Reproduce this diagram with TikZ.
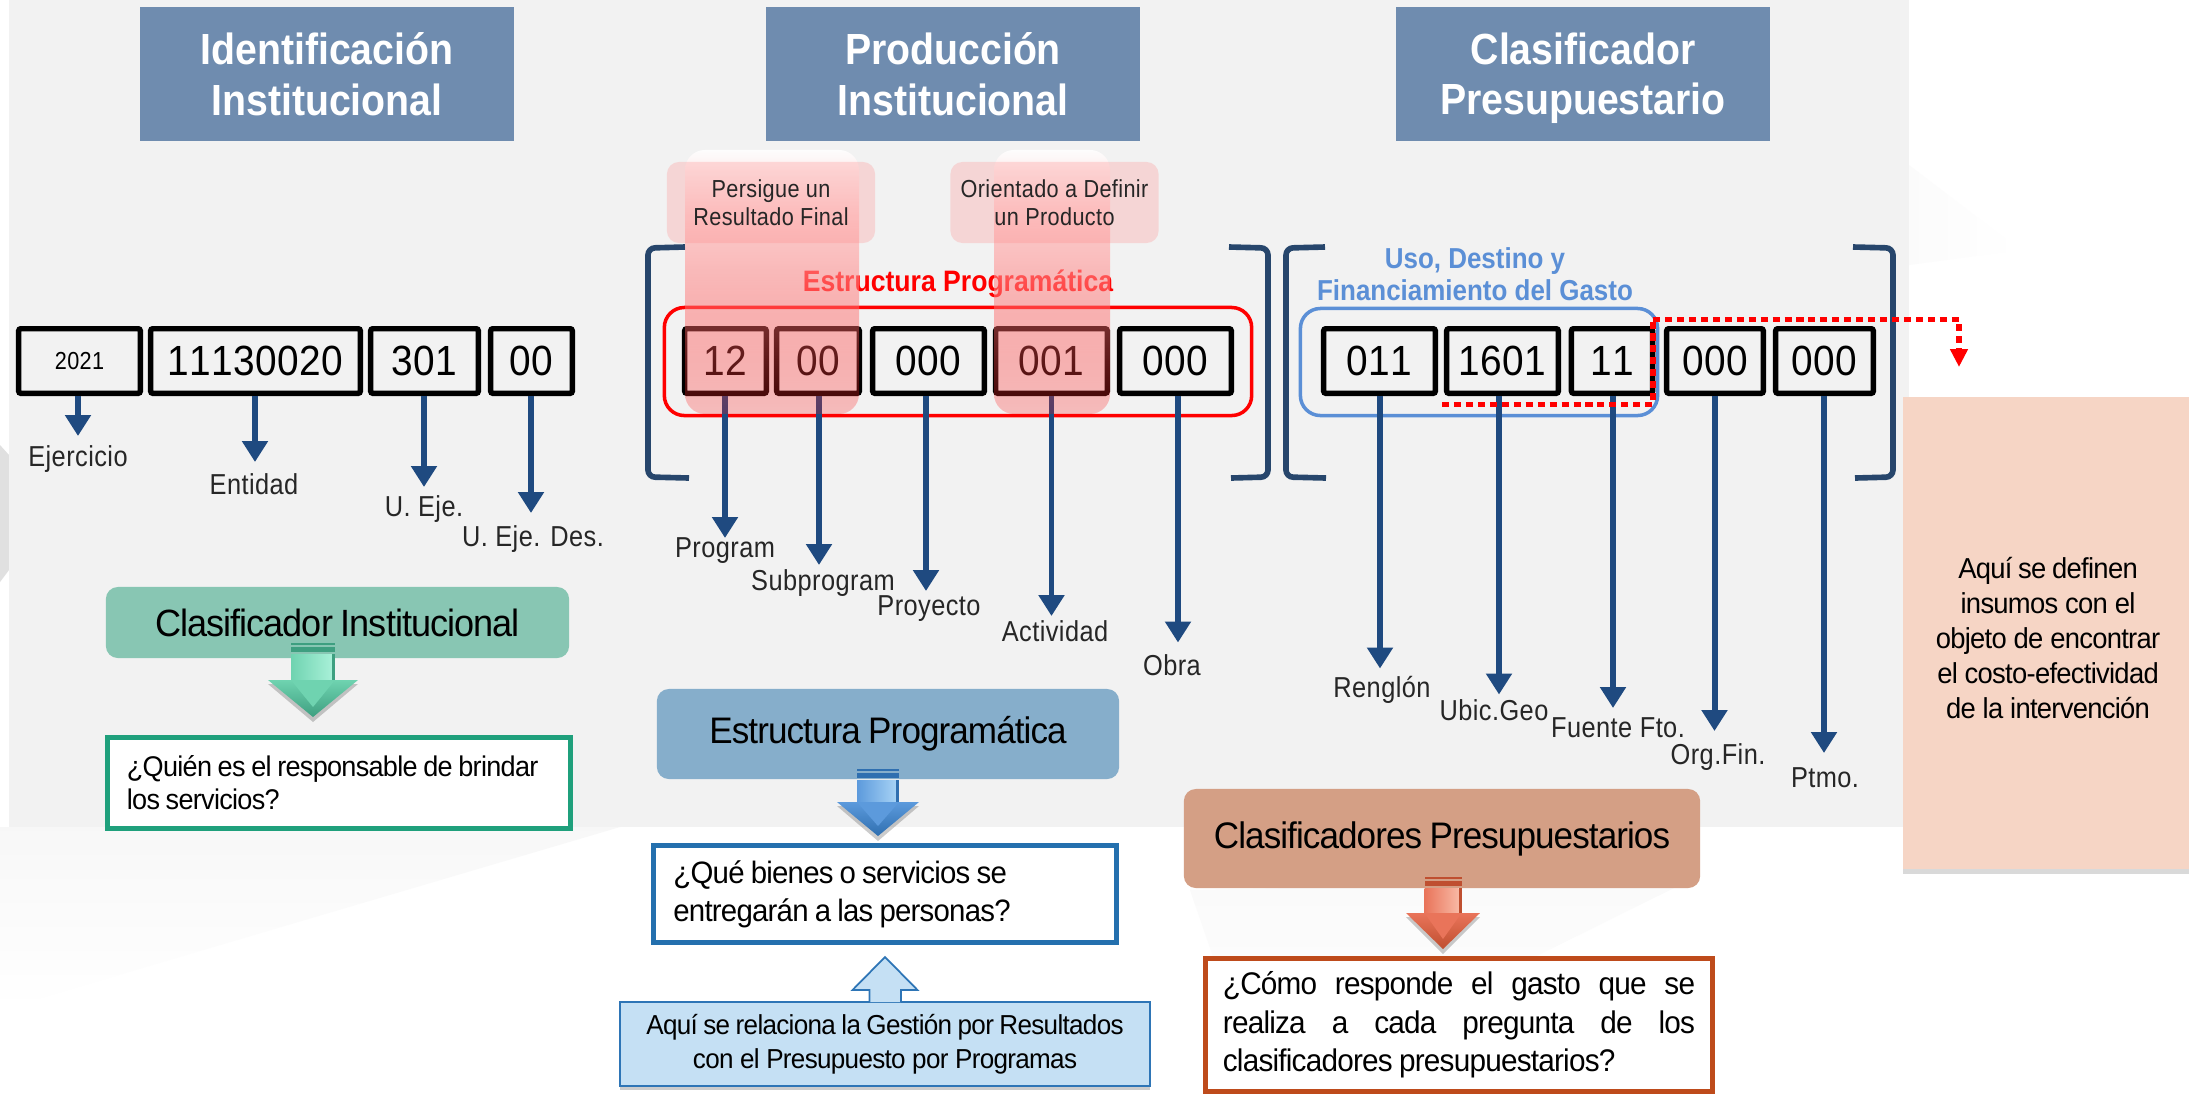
\documentclass[tikz,border=0pt]{standalone}
\usepackage{fontspec}
\usepackage{tikz}
\usetikzlibrary{arrows.meta,fadings}
\setmainfont{Liberation Sans}
\newfontfamily\labelfont[FakeStretch=0.88,LetterSpace=1.5]{Liberation Sans}
\newfontfamily\headfont[FakeStretch=0.9]{Liberation Sans}
\newfontfamily\codefont[FakeStretch=0.92,LetterSpace=1,Kerning=Off]{Liberation Sans}
\newfontfamily\tightfont[FakeStretch=0.95,LetterSpace=-2.5]{Liberation Sans}
\newcommand{\wordgap}{\spaceskip=.2em plus 1em\relax}
\definecolor{panelgray}{HTML}{F2F2F2}
\definecolor{headblue}{HTML}{6F8CAF}
\definecolor{arrowblue}{HTML}{1F4A80}
\definecolor{bracketblue}{HTML}{27466C}
\definecolor{usoblue}{HTML}{5B8FD6}
\definecolor{salmon}{HTML}{F6D5C5}
\definecolor{greentitle}{HTML}{88C6B3}
\definecolor{greenline}{HTML}{1FA07C}
\definecolor{greendark}{HTML}{3E9F80}
\definecolor{greenmid}{HTML}{6FD3B0}
\definecolor{greenlight}{HTML}{A8F0D8}
\definecolor{bluetitle}{HTML}{86AECB}
\definecolor{blueline}{HTML}{2470AE}
\definecolor{bluedark}{HTML}{2F6FB0}
\definecolor{bluemid}{HTML}{5C9ADC}
\definecolor{bluelight}{HTML}{A6D2F5}
\definecolor{orangetitle}{HTML}{D49F85}
\definecolor{orangeline}{HTML}{BE4B1B}
\definecolor{orangedark}{HTML}{BF4F30}
\definecolor{orangemid}{HTML}{E9745A}
\definecolor{orangelight}{HTML}{F8B8A4}
\definecolor{noteblue}{HTML}{C5E0F4}
\definecolor{notestroke}{HTML}{2E75B6}
\tikzfading[name=columnfade, top color=transparent!10, bottom color=transparent!76]
% cx, half shaft, stripe top, head y, half head, tip y, colour stem
\newcommand{\glossarrow}[7]{
  \fill[black,opacity=.2] ({#1-#5},#4+4) -- ({#1+#5},#4+4) -- (#1,#6+5) -- cycle;
  \fill[#7dark] ({#1-#2},#3) rectangle ({#1+#2},#3+2);
  \fill[#7dark] ({#1-#2},#3+4) rectangle ({#1+#2},#3+9);
  \shade[left color=#7mid, right color=#7light] ({#1-#2},#3+11) rectangle ({#1+#2-3},#4+2);
  \fill[#7dark] ({#1+#2-3},#3+11) rectangle ({#1+#2},#4+2);
  \shade[top color=#7mid, bottom color=#7dark] ({#1-#5},#4) -- ({#1+#5},#4) -- (#1,#6) -- cycle;
  \fill[#7mid] ({#1-#2},#4) -- ({#1+#2},#4) -- (#1,#6-10) -- cycle;
}

\begin{document}
\begin{tikzpicture}[x=0.01cm, y=-0.01cm,
  headerbox/.style={fill=headblue, text=white, minimum width=3.74cm, minimum height=1.34cm,
                    inner sep=0pt, align=center, text depth=0pt,
                    font=\headfont\bfseries\fontsize{12.4}{14.3}\selectfont},
  codebox/.style={draw=black, line width=1.56pt, rounded corners=0.6pt, inner sep=0pt,
                  minimum height=0.645cm, font=\codefont\fontsize{12}{13}\selectfont},
  codelabel/.style={font=\labelfont\fontsize{8.2}{9.4}\selectfont, text=black!85, inner sep=0pt},
  codearrow/.style={draw=arrowblue, line width=1.7pt, -{Triangle[width=0.25cm,length=0.21cm]}},
  bracket/.style={draw=bracketblue, line width=1.6pt, rounded corners=2pt},
  hintbox/.style={rounded corners=0.12cm, fill=red!50, fill opacity=.25, text opacity=1,
                  minimum width=2.08cm, minimum height=0.81cm, inner sep=0pt, align=center,
                  font=\labelfont\fontsize{7}{8}\selectfont, text=black!85},
  hintcolumn/.style={rounded corners=0.2cm, top color=white, bottom color=red!92,
                     path fading=columnfade},
  titlebox/.style={rounded corners=0.12cm, inner sep=0pt, align=center,
                   font=\tightfont\fontsize{10.5}{12}\selectfont},
  answerbox/.style={fill=white, line width=1.45pt, inner ysep=0pt, align=left},
  dotline/.style={draw=red, line width=1.55pt, dash pattern=on 2pt off 1.4pt},
]
\useasboundingbox (0,0) rectangle (2193,1093);

% Background
\fill[white] (0,0) rectangle (2193,1093);
\fill[black!12] (0,445) -- (9,455) -- (9,570) -- (0,582) -- cycle;
\shade[top color=black!3, bottom color=white] (0,827) -- (620,827) -- (0,1010) -- cycle;
\shade[left color=black!1.5, right color=white] (1909,165) -- (2020,250) -- (1909,265) -- cycle;
\shade[top color=black!2, bottom color=white] (1260,1093) -- (1690,880) -- (1190,890) -- cycle;
\fill[panelgray] (9,0) rectangle (1909,827);

% Headers
\node[headerbox] (headIdent) at (327,74) {Identificación\\Institucional};
\node[headerbox] (headProd) at (953,74) {Producción\\Institucional};
\node[headerbox] (headClas) at (1583,74) {Clasificador\\Presupuestario};

% Brackets
\draw[bracket] (685,247) -- (648,248) -- (648,477) -- (689,478);
\draw[bracket] (1229,247) -- (1268,248) -- (1268,477) -- (1231,478);
\draw[bracket] (1325,247) -- (1286,248) -- (1286,477) -- (1326,478);
\draw[bracket] (1853,247) -- (1893,248) -- (1893,477) -- (1855,478);

% Group captions and frames
\node[font=\headfont\bfseries\fontsize{8.4}{10}\selectfont, text=red, inner sep=0pt]
  (capProg) at (958,284) {Estructura Programática};
\node[font=\headfont\bfseries\fontsize{8.2}{9.25}\selectfont, text=usoblue, inner sep=0pt, align=center]
  (capUso) at (1475,274) {Uso, Destino y\\Financiamiento del Gasto};
\node[draw=red, line width=1pt, rounded corners=0.2cm, minimum width=5.87cm, minimum height=1.08cm,
      inner sep=0pt] (frameProg) at (958,361.5) {};
\node[draw=usoblue, line width=1pt, rounded corners=0.2cm, minimum width=3.57cm, minimum height=1.07cm,
      inner sep=0pt] (frameUso) at (1479,362) {};

% Code boxes
\node[codebox, minimum width=1.215cm, font=\labelfont\fontsize{7}{8}\selectfont] (cEjercicio) at (79.5,361) {2021};
\node[codebox, minimum width=2.095cm] (cEntidad) at (255.5,361) {11130020};
\node[codebox, minimum width=1.075cm] (cUeje) at (424.5,361) {301};
\node[codebox, minimum width=0.815cm] (cUdes) at (531.5,361) {00};
\node[codebox, minimum width=0.815cm] (cProgram) at (725.5,361) {12};
\node[codebox, minimum width=0.825cm] (cSubprog) at (818,361) {00};
\node[codebox, minimum width=1.115cm] (cProyecto) at (928.5,361) {000};
\node[codebox, minimum width=1.115cm] (cActividad) at (1051.5,361) {001};
\node[codebox, minimum width=1.115cm] (cObra) at (1175.5,361) {000};
\node[codebox, minimum width=1.115cm] (cRenglon) at (1379.5,361) {011};
\node[codebox, minimum width=1.115cm] (cUbic) at (1502.5,361) {1601};
\node[codebox, minimum width=0.81cm] (cFuente) at (1612,361) {11};
\node[codebox, minimum width=0.965cm] (cOrg) at (1715,361) {000};
\node[codebox, minimum width=0.975cm] (cPtmo) at (1824.5,361) {000};

% Arrow ends
\coordinate (tipEjercicio) at (78,436);
\coordinate (tipEntidad) at (255,462);
\coordinate (tipUeje) at (424,487);
\coordinate (tipUdes) at (531,513);
\coordinate (tipProgram) at (725,538);
\coordinate (tipSubprog) at (819,565);
\coordinate (tipProyecto) at (926,591);
\coordinate (tipActividad) at (1051.5,616);
\coordinate (tipObra) at (1178,642.5);
\coordinate (tipRenglon) at (1380,668.5);
\coordinate (tipUbic) at (1499,694.5);
\coordinate (tipFuente) at (1613,708);
\coordinate (tipOrg) at (1714.5,731);
\coordinate (tipPtmo) at (1824,753);

\foreach \item in {Ejercicio,Entidad,Ueje,Udes,Program,Subprog,Proyecto,Actividad,Obra,Renglon,Ubic,Fuente,Org,Ptmo}
  \draw[codearrow] (tip\item |- c\item.south) -- (tip\item);

% Labels under the arrows
\node[codelabel] (lEjercicio) at (78,459) {Ejercicio};
\node[codelabel] (lEntidad) at (254,484) {Entidad};
\node[codelabel] (lUeje) at (424,509) {U. Eje.};
\node[codelabel] (lUdes) at (533,539) {U. Eje. Des.};
\node[codelabel] (lProgram) at (725,551) {Program};
\node[codelabel] (lSubprog) at (823,583) {Subprogram};
\node[codelabel] (lProyecto) at (929,609) {Proyecto};
\node[codelabel] (lActividad) at (1055,631) {Actividad};
\node[codelabel] (lObra) at (1172,665) {Obra};
\node[codelabel] (lRenglon) at (1382,690) {Renglón};
\node[codelabel] (lUbic) at (1494,710) {Ubic.Geo};
\node[codelabel] (lFuente) at (1618,728) {Fuente Fto.};
\node[codelabel] (lOrg) at (1718,757) {Org.Fin.};
\node[codelabel] (lPtmo) at (1825,778) {Ptmo.};

% Pink columns over the codes
\path[hintcolumn] (685,150) rectangle (859,414);
\path[hintcolumn] (994,150) rectangle (1110,414);
\node[hintbox] (hintResultado) at (771,202.5) {Persigue un\\Resultado Final};
\node[hintbox] (hintProducto) at (1054.5,202.5) {Orientado a Definir\\un Producto};

% Dotted marker
\coordinate (dotA) at (1442,404.5);
\coordinate (dotB) at (1653,404.5);
\coordinate (dotC) at (1653,319.5);
\coordinate (dotD) at (1959,319.5);
\coordinate (dotE) at (1959,367);
\draw[dotline] (dotA) -- (dotB) -- (dotC);
\draw[dotline, -{Triangle[width=0.17cm,length=0.18cm]}] (dotC) -- (dotD) -- (dotE);

% Side note
\node[fill=black!15, minimum width=2.86cm, minimum height=4.72cm, inner sep=0pt] (sideShadow) at (2046,638) {};
\node[fill=salmon, minimum width=2.86cm, minimum height=4.72cm, inner sep=0pt] (sidePanel) at (2046,633) {};
\node[align=center, inner sep=0pt, font=\tightfont\fontsize{8.2}{10}\selectfont] (noteInsumos) at (2048,638)
  {\wordgap Aquí se definen\\insumos con el\\objeto de encontrar\\el costo-efectividad\\de la intervención};

% Left column
\node[titlebox, fill=greentitle, minimum width=4.63cm, minimum height=0.71cm,
      font=\tightfont\fontsize{10.8}{12}\selectfont] (titleInst) at (337.5,622.5)
  {\wordgap Clasificador Institucional};
\node[answerbox, draw=greenline, text width=4.24cm, inner xsep=0.195cm, minimum height=0.91cm,
      font=\tightfont\fontsize{8.1}{9.4}\selectfont] (askInst) at (339,783)
  {\wordgap ¿Quién es el responsable de brindar\\los servicios?};
\glossarrow{313}{22}{643}{680}{45}{717}{green}

% Middle column
\node[titlebox, fill=bluetitle, minimum width=4.62cm, minimum height=0.9cm] (titleProg) at (888,734)
  {\wordgap Estructura Programática};
\node[answerbox, draw=blueline, text width=4.23cm, inner xsep=0.2cm, minimum height=0.97cm,
      font=\tightfont\fontsize{8.8}{10.8}\selectfont] (askProg) at (885,894)
  {\wordgap ¿Qué bienes o servicios se\\entregarán a las personas?};
\glossarrow{878}{21}{769}{802}{41}{836}{blue}
\node[fill=black, fill opacity=.2, minimum width=5.3cm, minimum height=0.84cm, inner sep=0pt] (noteShadow) at (885,1048) {};
\node[draw=notestroke, line width=0.5pt, fill=noteblue, minimum width=5.3cm, minimum height=0.84cm,
      inner sep=0pt, align=center, font=\tightfont\fontsize{7.8}{9.6}\selectfont] (noteGestion) at (885,1044)
  {\wordgap Aquí se relaciona la Gestión por Resultados\\con el Presupuesto por Programas};
\draw[draw=notestroke, line width=0.5pt, fill=noteblue]
  (869.5,1002) -- (869.5,990) -- (852.5,990) -- (885,957) -- (917.5,990) -- (901,990) -- (901,1002);

% Right column
\node[titlebox, fill=orangetitle, minimum width=5.16cm, minimum height=0.99cm] (titleClas) at (1442,838.5)
  {\wordgap Clasificadores Presupuestarios};
\node[answerbox, draw=orangeline, text width=4.72cm, inner xsep=0.175cm, minimum height=1.33cm,
      font=\tightfont\fontsize{8.9}{10.9}\selectfont] (askClas) at (1459,1025)
  {\wordgap\makebox[4.72cm][s]{¿Cómo responde el gasto que se}\\
   \makebox[4.72cm][s]{realiza a cada pregunta de los}\\
   clasificadores presupuestarios?};
\glossarrow{1443}{18.5}{877}{913}{37}{949}{orange}

\end{tikzpicture}
\end{document}
